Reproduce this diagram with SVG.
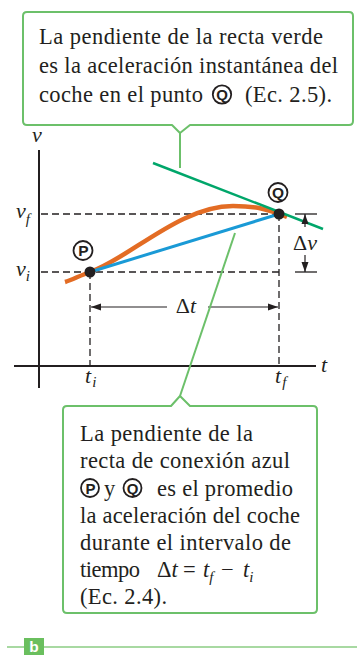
<svg xmlns="http://www.w3.org/2000/svg" width="357" height="655" viewBox="0 0 357 655">
<defs>
<marker id="ah" viewBox="0 0 10 10" refX="10" refY="5" markerWidth="10" markerHeight="10" markerUnits="userSpaceOnUse" orient="auto">
<path d="M0,1.5 L10,5 L0,8.5 Z" fill="#231f20"/>
</marker>
</defs>

<g id="axes" stroke="#231f20" stroke-width="2">
<line x1="39" y1="150" x2="39" y2="388"/>
<line x1="14" y1="366" x2="316" y2="366"/>
</g>
<g id="axis-labels" font-family="Liberation Serif, DejaVu Serif, serif" font-size="22" font-style="italic" fill="#231f20">
<text x="32" y="142">v</text>
<text x="321" y="372">t</text>
<text x="16" y="218">v<tspan font-size="15" dx="0" dy="6">f</tspan></text>
<text x="16" y="276">v<tspan font-size="15" dx="0" dy="5">i</tspan></text>
<text x="85" y="383">t<tspan font-size="15" dx="1" dy="4">i</tspan></text>
<text x="275" y="383">t<tspan font-size="15" dx="1" dy="4">f</tspan></text>
</g>

<g id="guides" fill="none" stroke="#231f20" stroke-width="1.3">
<g stroke-dasharray="7,4">
<line x1="41" y1="214" x2="279" y2="214"/>
<line x1="41" y1="272" x2="279" y2="272"/>
<line x1="90" y1="272" x2="90" y2="366"/>
<line x1="279" y1="214" x2="279" y2="366"/>
</g>
<line x1="295" y1="214" x2="317" y2="214"/>
<line x1="295" y1="272" x2="317" y2="272"/>
</g>

<g id="curve">
<path d="M65,282 C72,280 80,275.5 90,272 C130,258 180,206 233,206 C255,206 268,209 287,217" fill="none" stroke="#e36c24" stroke-width="4.5"/>
<line x1="90" y1="272" x2="279" y2="214" stroke="#1a9ad6" stroke-width="3"/>
<line x1="153" y1="163" x2="323" y2="229" stroke="#00a66a" stroke-width="2.5"/>
</g>

<g id="dims" stroke="#231f20" stroke-width="1.2" fill="none">
<line x1="167" y1="307" x2="91" y2="307" marker-end="url(#ah)"/>
<line x1="208" y1="307" x2="278" y2="307" marker-end="url(#ah)"/>
<line x1="305" y1="227" x2="305" y2="214" marker-end="url(#ah)"/>
<line x1="305" y1="255" x2="305" y2="272" marker-end="url(#ah)"/>
</g>
<g id="dim-labels" font-family="Liberation Serif, DejaVu Serif, serif" font-size="22" fill="#231f20" text-anchor="middle">
<text x="186" y="313">Δ<tspan font-style="italic">t</tspan></text>
<text x="305" y="250">Δ<tspan font-style="italic">v</tspan></text>
</g>

<g id="pointP">
<circle cx="90" cy="272" r="5.5" fill="#231f20"/>
<circle cx="83" cy="250.5" r="9.5" fill="#fff" stroke="#231f20" stroke-width="1.8"/>
<text x="83.5" y="256" font-family="Liberation Sans, DejaVu Sans, sans-serif" font-weight="bold" font-size="15.5" fill="#231f20" text-anchor="middle">P</text>
</g>
<g id="pointQ">
<circle cx="279" cy="214" r="5.5" fill="#231f20"/>
<circle cx="278" cy="192.5" r="9.5" fill="#fff" stroke="#231f20" stroke-width="1.8"/>
<text x="278" y="198" font-family="Liberation Sans, DejaVu Sans, sans-serif" font-weight="bold" font-size="15.5" fill="#231f20" text-anchor="middle">Q</text>
</g>

<g id="connectors" stroke="#6cc06a" stroke-width="2" fill="none">
<line x1="180" y1="133" x2="180" y2="168"/>
<line x1="180" y1="396" x2="235" y2="233"/>
</g>

<g id="callout-top">
<path d="M27,12 H349 Q353,12 353,16 V121 Q353,125 349,125 H190 L180,133 L172,125 H27 Q23,125 23,121 V16 Q23,12 27,12 Z" fill="#fff" stroke="#6cc06a" stroke-width="2" stroke-linejoin="round"/>
<g font-family="Liberation Serif, DejaVu Serif, serif" font-size="22.5" fill="#231f20">
<text x="39" y="44" textLength="284">La pendiente de la recta verde</text>
<text x="39" y="72.5" textLength="299">es la aceleración instantánea del</text>
<text x="39" y="101.5" textLength="164">coche en el punto</text>
<text x="245" y="101.5" textLength="87">(Ec. 2.5).</text>
</g>
<circle cx="222" cy="94.5" r="9.2" fill="#fff" stroke="#231f20" stroke-width="1.8"/>
<text x="222" y="100" font-family="Liberation Sans, DejaVu Sans, sans-serif" font-weight="bold" font-size="15" fill="#231f20" text-anchor="middle">Q</text>
</g>

<g id="callout-bottom">
<path d="M67,406 H171 L180,396 L190,406 H313 Q317,406 317,410 V609 Q317,613 313,613 H67 Q63,613 63,609 V410 Q63,406 67,406 Z" fill="#fff" stroke="#6cc06a" stroke-width="2" stroke-linejoin="round"/>
<g font-family="Liberation Serif, DejaVu Serif, serif" font-size="22.5" fill="#231f20">
<text x="80" y="441" textLength="173">La pendiente de la</text>
<text x="80" y="468" textLength="210">recta de conexión azul</text>
<text x="104" y="495.5">y</text>
<text x="157" y="495.5" textLength="136">es el promedio</text>
<text x="80" y="523" textLength="220">la aceleración del coche</text>
<text x="80" y="550" textLength="211">durante el intervalo de</text>
<text x="80" y="577" textLength="60">tiempo</text>
<text x="157" y="577">Δ<tspan font-style="italic">t</tspan></text>
<text x="183" y="577">=</text>
<text x="203" y="577" font-style="italic">t<tspan font-size="15" dy="5">f</tspan></text>
<text x="221" y="577">−</text>
<text x="243" y="577" font-style="italic">t<tspan font-size="15" dy="5">i</tspan></text>
<text x="80" y="604" textLength="87">(Ec. 2.4).</text>
</g>
<g font-family="Liberation Sans, DejaVu Sans, sans-serif" font-weight="bold" font-size="15" fill="#231f20" text-anchor="middle">
<circle cx="90" cy="488" r="9" fill="#fff" stroke="#231f20" stroke-width="1.8"/>
<text x="90.5" y="493.5">P</text>
<circle cx="132.5" cy="488" r="9" fill="#fff" stroke="#231f20" stroke-width="1.8"/>
<text x="132.5" y="493.5">Q</text>
</g>
</g>

<g id="footer">
<line x1="7" y1="647" x2="357" y2="647" stroke="#a8d9a2" stroke-width="2"/>
<rect x="24" y="638" width="20" height="17" fill="#6abf5e"/>
<text x="34" y="651.5" text-anchor="middle" font-family="Liberation Sans, Arial, sans-serif" font-weight="bold" font-size="15.5" fill="#fff">b</text>
</g>
</svg>
